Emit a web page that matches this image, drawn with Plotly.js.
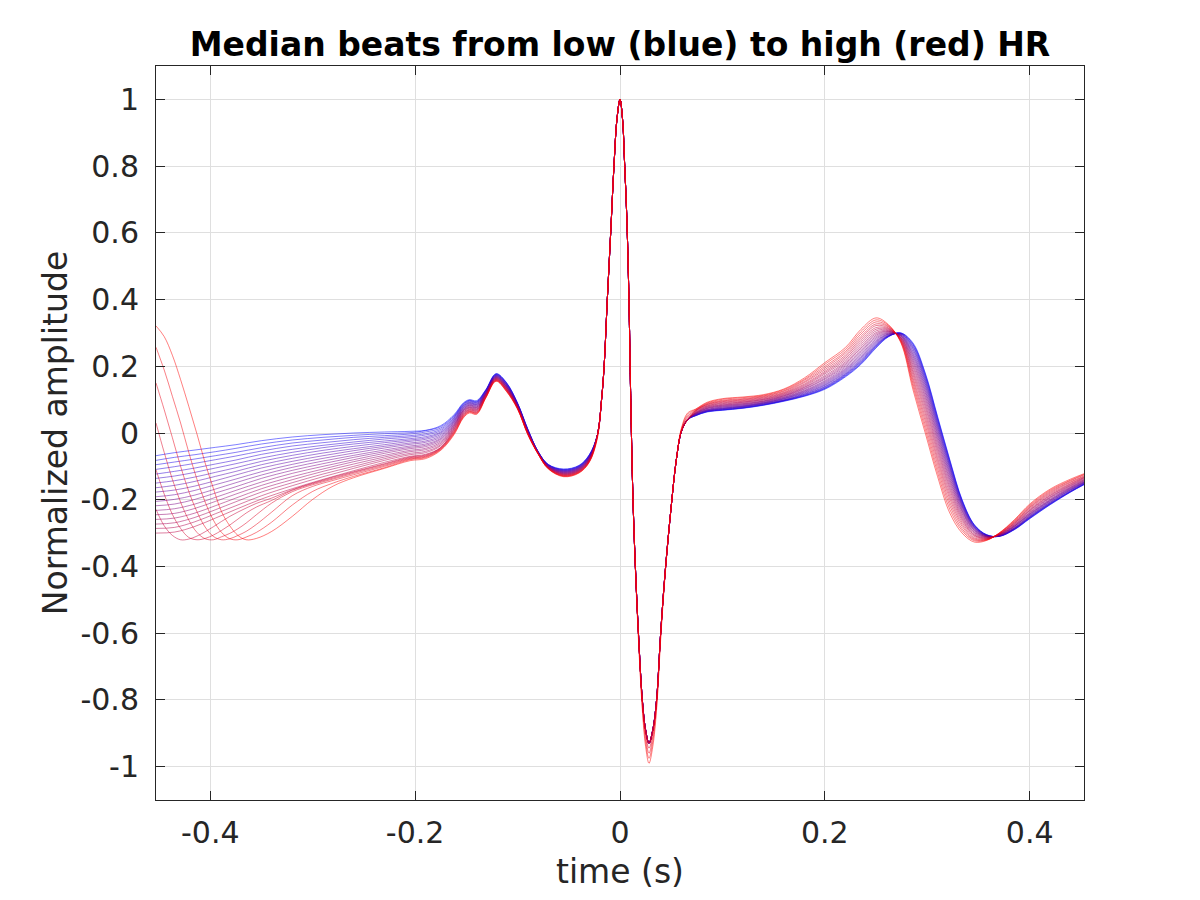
<!DOCTYPE html>
<html>
<head>
<meta charset="utf-8">
<script src="https://cdn.plot.ly/plotly-3.0.1.min.js"></script>
<style>
  html, body { margin: 0; padding: 0; background: #ffffff; }
  #plot { width: 1200px; height: 900px; }
</style>
</head>
<body>
<div id="plot"></div>
<script>
// Median beats binned by heart rate, k = 0 (lowest HR, blue) .. 23 (highest HR, red).
// Each beat is stored in four pieces: the tail of the previous beat, the P wave,
// the QRS complex and the ST-T segment.

// ---- time grids (s) ----
const tFan   = [-0.453, -0.435, -0.415, -0.395, -0.375, -0.35, -0.32, -0.29, -0.26, -0.23, -0.205];
const tTwave = [-0.453, -0.445, -0.437, -0.429, -0.421, -0.413, -0.405, -0.397, -0.389, -0.381,
                -0.373, -0.365, -0.355, -0.34, -0.32, -0.30, -0.28, -0.26, -0.23, -0.205];
const tP     = [-0.19, -0.175, -0.162, -0.153, -0.147, -0.14, -0.131, -0.121, -0.111, -0.10,
                -0.09, -0.08, -0.07, -0.055, -0.04, -0.03];
const tQRS   = [-0.022, -0.018, -0.0155, -0.0124, -0.0091, -0.0059, -0.003, 0, 0.0025, 0.0046,
                0.0066, 0.0086, 0.0105, 0.0125, 0.015, 0.018, 0.0218, 0.025, 0.0283, 0.032,
                0.0357, 0.0397, 0.044, 0.050, 0.055, 0.060, 0.066];
const tST    = [0.074, 0.085, 0.10, 0.12, 0.14, 0.16, 0.18, 0.20, 0.22, 0.235, 0.25, 0.262, 0.274,
                0.286, 0.298, 0.31, 0.322, 0.334, 0.346, 0.358, 0.37, 0.385, 0.40, 0.42, 0.44, 0.453];

// ---- previous-beat tail, beats 0..17 (recovery after the T wave, on tFan) ----
const tailFan = [
  [-0.068, -0.059, -0.051, -0.043, -0.035, -0.023, -0.012, -0.005,  0.000,  0.003,  0.005],
  [-0.082, -0.073, -0.065, -0.056, -0.046, -0.033, -0.021, -0.013, -0.007, -0.002,  0.001],
  [-0.095, -0.087, -0.078, -0.068, -0.058, -0.044, -0.030, -0.021, -0.013, -0.008, -0.003],
  [-0.109, -0.101, -0.091, -0.080, -0.069, -0.054, -0.039, -0.029, -0.020, -0.013, -0.008],
  [-0.123, -0.115, -0.105, -0.093, -0.081, -0.064, -0.049, -0.037, -0.027, -0.018, -0.012],
  [-0.136, -0.129, -0.118, -0.105, -0.092, -0.075, -0.058, -0.044, -0.033, -0.024, -0.017],
  [-0.150, -0.143, -0.132, -0.118, -0.104, -0.085, -0.067, -0.052, -0.040, -0.029, -0.021],
  [-0.164, -0.157, -0.145, -0.130, -0.115, -0.095, -0.076, -0.060, -0.047, -0.035, -0.025],
  [-0.177, -0.171, -0.159, -0.143, -0.126, -0.105, -0.085, -0.068, -0.053, -0.040, -0.030],
  [-0.191, -0.185, -0.172, -0.155, -0.138, -0.116, -0.094, -0.076, -0.060, -0.045, -0.034],
  [-0.205, -0.199, -0.186, -0.168, -0.149, -0.126, -0.103, -0.084, -0.067, -0.051, -0.039],
  [-0.218, -0.213, -0.199, -0.180, -0.161, -0.136, -0.112, -0.092, -0.073, -0.056, -0.043],
  [-0.232, -0.227, -0.213, -0.193, -0.172, -0.147, -0.121, -0.100, -0.080, -0.061, -0.047],
  [-0.245, -0.241, -0.226, -0.205, -0.183, -0.157, -0.131, -0.108, -0.086, -0.067, -0.052],
  [-0.259, -0.255, -0.240, -0.218, -0.195, -0.167, -0.140, -0.115, -0.093, -0.072, -0.056],
  [-0.273, -0.269, -0.253, -0.230, -0.206, -0.177, -0.149, -0.123, -0.100, -0.077, -0.061],
  [-0.286, -0.283, -0.266, -0.242, -0.218, -0.188, -0.158, -0.131, -0.106, -0.082, -0.065],
  [-0.300, -0.297, -0.280, -0.255, -0.229, -0.198, -0.167, -0.139, -0.113, -0.088, -0.070]
];

// ---- previous-beat tail, beats 18..23 (end of T wave still visible, on tTwave) ----
const tailTwave = [
  [-0.229, -0.278, -0.307, -0.320, -0.318, -0.309, -0.296, -0.281, -0.265, -0.250,
   -0.237, -0.225, -0.211, -0.195, -0.170, -0.150, -0.132, -0.116, -0.092, -0.072],
  [-0.110, -0.183, -0.244, -0.286, -0.313, -0.320, -0.316, -0.306, -0.292, -0.276,
   -0.258, -0.240, -0.222, -0.202, -0.172, -0.152, -0.135, -0.118, -0.094, -0.074],
  [ 0.030, -0.058, -0.139, -0.207, -0.261, -0.298, -0.317, -0.320, -0.311, -0.301,
   -0.287, -0.270, -0.245, -0.210, -0.176, -0.155, -0.138, -0.121, -0.097, -0.076],
  [ 0.150,  0.070, -0.014, -0.100, -0.175, -0.236, -0.282, -0.310, -0.320, -0.317,
   -0.307, -0.295, -0.274, -0.237, -0.188, -0.160, -0.142, -0.125, -0.100, -0.078],
  [ 0.257,  0.189,  0.110,  0.030, -0.058, -0.139, -0.207, -0.261, -0.298, -0.317,
   -0.320, -0.312, -0.298, -0.267, -0.216, -0.175, -0.150, -0.130, -0.104, -0.080],
  [ 0.321,  0.289,  0.233,  0.160,  0.080, -0.003, -0.090, -0.166, -0.236, -0.278,
   -0.307, -0.320, -0.316, -0.295, -0.250, -0.199, -0.159, -0.134, -0.106, -0.083]
];

// ---- P wave and PR segment, one row per beat (on tP) ----
const pWave = [
  [ 0.008,  0.022,  0.055, 0.090, 0.100, 0.097, 0.130, 0.178, 0.152, 0.090,  0.012, -0.055, -0.094, -0.108, -0.097, -0.065],
  [ 0.007,  0.019,  0.052, 0.088, 0.098, 0.095, 0.129, 0.177, 0.151, 0.089,  0.011, -0.055, -0.095, -0.109, -0.098, -0.066],
  [ 0.003,  0.015,  0.050, 0.086, 0.097, 0.093, 0.128, 0.176, 0.150, 0.088,  0.011, -0.056, -0.095, -0.110, -0.099, -0.067],
  [-0.002,  0.011,  0.047, 0.084, 0.095, 0.092, 0.127, 0.175, 0.149, 0.088,  0.010, -0.056, -0.096, -0.111, -0.100, -0.068],
  [-0.006,  0.007,  0.045, 0.082, 0.093, 0.090, 0.126, 0.174, 0.147, 0.087,  0.009, -0.056, -0.096, -0.112, -0.101, -0.069],
  [-0.011,  0.003,  0.042, 0.080, 0.091, 0.088, 0.125, 0.173, 0.146, 0.086,  0.008, -0.057, -0.097, -0.113, -0.102, -0.070],
  [-0.015,  0.000,  0.039, 0.078, 0.090, 0.086, 0.124, 0.172, 0.145, 0.085,  0.008, -0.057, -0.098, -0.114, -0.103, -0.071],
  [-0.019, -0.004,  0.037, 0.076, 0.088, 0.085, 0.122, 0.171, 0.144, 0.084,  0.007, -0.057, -0.098, -0.115, -0.104, -0.072],
  [-0.024, -0.008,  0.034, 0.074, 0.086, 0.083, 0.121, 0.170, 0.143, 0.083,  0.006, -0.058, -0.099, -0.116, -0.105, -0.073],
  [-0.028, -0.012,  0.032, 0.072, 0.084, 0.081, 0.120, 0.169, 0.141, 0.083,  0.005, -0.058, -0.100, -0.117, -0.106, -0.074],
  [-0.033, -0.016,  0.029, 0.070, 0.083, 0.079, 0.119, 0.168, 0.140, 0.082,  0.005, -0.058, -0.100, -0.118, -0.107, -0.075],
  [-0.037, -0.019,  0.026, 0.068, 0.081, 0.077, 0.118, 0.167, 0.139, 0.081,  0.004, -0.059, -0.101, -0.119, -0.108, -0.076],
  [-0.041, -0.023,  0.024, 0.067, 0.079, 0.076, 0.117, 0.166, 0.138, 0.080,  0.003, -0.059, -0.101, -0.120, -0.109, -0.077],
  [-0.046, -0.027,  0.021, 0.065, 0.077, 0.074, 0.116, 0.165, 0.137, 0.079,  0.002, -0.060, -0.102, -0.121, -0.110, -0.078],
  [-0.050, -0.031,  0.019, 0.063, 0.076, 0.072, 0.115, 0.164, 0.136, 0.078,  0.002, -0.060, -0.103, -0.122, -0.111, -0.079],
  [-0.055, -0.035,  0.016, 0.061, 0.074, 0.070, 0.114, 0.163, 0.134, 0.078,  0.001, -0.060, -0.103, -0.123, -0.112, -0.080],
  [-0.059, -0.038,  0.013, 0.059, 0.072, 0.069, 0.113, 0.162, 0.133, 0.077,  0.000, -0.061, -0.104, -0.124, -0.113, -0.081],
  [-0.064, -0.043,  0.011, 0.057, 0.070, 0.067, 0.112, 0.161, 0.132, 0.076, -0.001, -0.061, -0.104, -0.125, -0.114, -0.082],
  [-0.066, -0.044,  0.008, 0.055, 0.069, 0.065, 0.110, 0.160, 0.131, 0.075, -0.001, -0.061, -0.105, -0.126, -0.115, -0.083],
  [-0.068, -0.045,  0.005, 0.053, 0.067, 0.063, 0.109, 0.159, 0.130, 0.074, -0.002, -0.062, -0.106, -0.127, -0.116, -0.084],
  [-0.070, -0.047,  0.003, 0.051, 0.065, 0.061, 0.108, 0.158, 0.129, 0.074, -0.003, -0.062, -0.106, -0.128, -0.117, -0.085],
  [-0.072, -0.048,  0.000, 0.049, 0.064, 0.060, 0.107, 0.157, 0.127, 0.073, -0.004, -0.062, -0.107, -0.129, -0.118, -0.086],
  [-0.074, -0.050, -0.002, 0.047, 0.062, 0.058, 0.106, 0.156, 0.126, 0.072, -0.004, -0.063, -0.107, -0.130, -0.119, -0.087],
  [-0.077, -0.052, -0.005, 0.045, 0.060, 0.056, 0.105, 0.155, 0.125, 0.071, -0.005, -0.063, -0.108, -0.131, -0.120, -0.088]
];

// ---- QRS complex (on tQRS); only the S-wave depth differs for the fastest beats ----
const qrsNormal = [-0.005, 0.10, 0.20, 0.40, 0.60, 0.80, 0.94, 1.00, 0.94, 0.80, 0.65, 0.42, 0.10, -0.18,
                   -0.40, -0.60, -0.80, -0.89, -0.93, -0.89, -0.80, -0.60, -0.42, -0.22, -0.08, 0.005, 0.04];
const qrsDeep1  = [-0.008, 0.10, 0.20, 0.40, 0.60, 0.80, 0.94, 1.00, 0.94, 0.80, 0.65, 0.42, 0.10, -0.18,
                   -0.40, -0.60, -0.80, -0.90, -0.945, -0.90, -0.80, -0.60, -0.42, -0.22, -0.08, 0.008, 0.045];
const qrsDeep2  = [-0.010, 0.10, 0.20, 0.40, 0.60, 0.80, 0.94, 1.00, 0.94, 0.80, 0.65, 0.42, 0.10, -0.18,
                   -0.40, -0.60, -0.81, -0.91, -0.96, -0.91, -0.81, -0.60, -0.42, -0.22, -0.08, 0.010, 0.050];
const qrsDeep3  = [-0.012, 0.10, 0.20, 0.40, 0.60, 0.80, 0.94, 1.00, 0.94, 0.80, 0.65, 0.42, 0.10, -0.18,
                   -0.40, -0.61, -0.82, -0.925, -0.975, -0.925, -0.82, -0.61, -0.42, -0.22, -0.08, 0.012, 0.055];
const qrsDeep4  = [-0.015, 0.10, 0.20, 0.40, 0.60, 0.80, 0.94, 1.00, 0.94, 0.80, 0.65, 0.42, 0.10, -0.18,
                   -0.41, -0.62, -0.83, -0.94, -0.99, -0.94, -0.83, -0.62, -0.43, -0.22, -0.08, 0.015, 0.060];
const qrsShapes = [qrsNormal, qrsDeep1, qrsDeep2, qrsDeep3, qrsDeep4];
const qrsPick   = [0, 0, 0, 0, 0, 0, 0, 0, 0, 0, 0, 0, 0, 0, 0, 0, 0, 0, 0, 0, 1, 2, 3, 4];

// ---- ST segment and T wave, one row per beat (on tST) ----
const stWave = [
  [0.052, 0.063, 0.068, 0.074, 0.083, 0.095, 0.110, 0.131, 0.168, 0.205, 0.255, 0.288, 0.300, 0.270, 0.180,  0.050, -0.080, -0.200, -0.275, -0.305, -0.310, -0.290, -0.257, -0.215, -0.177, -0.155],
  [0.052, 0.064, 0.069, 0.075, 0.084, 0.096, 0.111, 0.133, 0.170, 0.207, 0.257, 0.289, 0.300, 0.267, 0.177,  0.047, -0.083, -0.202, -0.276, -0.305, -0.310, -0.289, -0.256, -0.214, -0.176, -0.154],
  [0.053, 0.064, 0.069, 0.075, 0.084, 0.097, 0.112, 0.134, 0.172, 0.209, 0.259, 0.290, 0.299, 0.265, 0.173,  0.043, -0.086, -0.204, -0.277, -0.306, -0.310, -0.289, -0.255, -0.213, -0.176, -0.154],
  [0.053, 0.065, 0.070, 0.076, 0.085, 0.097, 0.113, 0.136, 0.174, 0.212, 0.261, 0.290, 0.298, 0.261, 0.169,  0.039, -0.090, -0.206, -0.278, -0.306, -0.309, -0.288, -0.254, -0.212, -0.175, -0.153],
  [0.054, 0.066, 0.071, 0.077, 0.086, 0.098, 0.115, 0.138, 0.176, 0.214, 0.263, 0.291, 0.298, 0.258, 0.164,  0.034, -0.094, -0.209, -0.280, -0.307, -0.309, -0.287, -0.253, -0.211, -0.174, -0.152],
  [0.054, 0.066, 0.072, 0.078, 0.087, 0.099, 0.116, 0.140, 0.178, 0.217, 0.265, 0.292, 0.297, 0.254, 0.159,  0.029, -0.099, -0.212, -0.281, -0.307, -0.309, -0.287, -0.252, -0.210, -0.173, -0.151],
  [0.055, 0.067, 0.073, 0.079, 0.088, 0.100, 0.118, 0.143, 0.181, 0.220, 0.268, 0.293, 0.296, 0.250, 0.154,  0.024, -0.103, -0.215, -0.283, -0.308, -0.309, -0.286, -0.251, -0.208, -0.171, -0.150],
  [0.056, 0.068, 0.074, 0.080, 0.089, 0.102, 0.120, 0.145, 0.184, 0.224, 0.271, 0.295, 0.295, 0.245, 0.148,  0.018, -0.108, -0.218, -0.284, -0.308, -0.308, -0.285, -0.249, -0.207, -0.170, -0.149],
  [0.056, 0.069, 0.075, 0.081, 0.090, 0.103, 0.122, 0.148, 0.187, 0.227, 0.274, 0.296, 0.294, 0.240, 0.142,  0.012, -0.114, -0.221, -0.286, -0.309, -0.308, -0.284, -0.248, -0.205, -0.169, -0.148],
  [0.057, 0.070, 0.077, 0.082, 0.091, 0.104, 0.124, 0.151, 0.190, 0.231, 0.277, 0.297, 0.293, 0.235, 0.135,  0.005, -0.120, -0.225, -0.288, -0.309, -0.308, -0.283, -0.246, -0.203, -0.167, -0.147],
  [0.058, 0.071, 0.078, 0.084, 0.092, 0.106, 0.126, 0.154, 0.193, 0.235, 0.281, 0.299, 0.292, 0.230, 0.128, -0.002, -0.126, -0.229, -0.290, -0.310, -0.307, -0.281, -0.244, -0.202, -0.166, -0.146],
  [0.059, 0.073, 0.080, 0.085, 0.094, 0.107, 0.128, 0.157, 0.197, 0.240, 0.285, 0.300, 0.291, 0.224, 0.121, -0.009, -0.133, -0.233, -0.292, -0.311, -0.307, -0.280, -0.243, -0.200, -0.164, -0.144],
  [0.059, 0.074, 0.081, 0.087, 0.095, 0.109, 0.131, 0.161, 0.201, 0.244, 0.289, 0.302, 0.290, 0.218, 0.113, -0.017, -0.140, -0.237, -0.294, -0.311, -0.306, -0.279, -0.241, -0.198, -0.163, -0.143],
  [0.060, 0.075, 0.083, 0.088, 0.096, 0.111, 0.133, 0.164, 0.205, 0.249, 0.293, 0.304, 0.288, 0.212, 0.105, -0.025, -0.147, -0.242, -0.297, -0.312, -0.306, -0.278, -0.239, -0.195, -0.161, -0.141],
  [0.061, 0.077, 0.084, 0.090, 0.098, 0.112, 0.136, 0.168, 0.209, 0.254, 0.297, 0.305, 0.287, 0.205, 0.096, -0.034, -0.155, -0.247, -0.299, -0.313, -0.305, -0.276, -0.237, -0.193, -0.159, -0.140],
  [0.062, 0.078, 0.086, 0.092, 0.100, 0.114, 0.138, 0.172, 0.213, 0.259, 0.301, 0.307, 0.286, 0.198, 0.087, -0.043, -0.163, -0.252, -0.302, -0.314, -0.305, -0.275, -0.234, -0.191, -0.157, -0.138],
  [0.063, 0.080, 0.088, 0.093, 0.101, 0.116, 0.141, 0.177, 0.218, 0.265, 0.306, 0.309, 0.284, 0.190, 0.078, -0.052, -0.171, -0.257, -0.305, -0.315, -0.304, -0.273, -0.232, -0.188, -0.155, -0.136],
  [0.065, 0.081, 0.090, 0.095, 0.103, 0.118, 0.144, 0.181, 0.223, 0.271, 0.311, 0.311, 0.283, 0.183, 0.068, -0.062, -0.180, -0.262, -0.307, -0.316, -0.304, -0.271, -0.230, -0.186, -0.153, -0.134],
  [0.066, 0.083, 0.092, 0.097, 0.105, 0.120, 0.147, 0.185, 0.228, 0.277, 0.316, 0.313, 0.281, 0.175, 0.058, -0.073, -0.189, -0.268, -0.310, -0.317, -0.303, -0.270, -0.227, -0.183, -0.151, -0.133],
  [0.067, 0.085, 0.094, 0.099, 0.107, 0.122, 0.151, 0.190, 0.233, 0.283, 0.322, 0.315, 0.279, 0.166, 0.047, -0.083, -0.198, -0.274, -0.314, -0.318, -0.303, -0.268, -0.224, -0.180, -0.148, -0.131],
  [0.068, 0.086, 0.096, 0.101, 0.109, 0.125, 0.154, 0.195, 0.239, 0.289, 0.327, 0.318, 0.278, 0.158, 0.036, -0.094, -0.208, -0.280, -0.317, -0.319, -0.302, -0.266, -0.222, -0.177, -0.146, -0.129],
  [0.069, 0.088, 0.098, 0.103, 0.111, 0.127, 0.158, 0.200, 0.244, 0.296, 0.333, 0.320, 0.276, 0.149, 0.024, -0.106, -0.218, -0.287, -0.320, -0.320, -0.301, -0.264, -0.219, -0.174, -0.143, -0.126],
  [0.071, 0.090, 0.101, 0.106, 0.113, 0.130, 0.161, 0.206, 0.250, 0.303, 0.339, 0.323, 0.274, 0.140, 0.012, -0.118, -0.229, -0.293, -0.323, -0.321, -0.301, -0.262, -0.216, -0.171, -0.141, -0.124],
  [0.072, 0.092, 0.103, 0.108, 0.115, 0.132, 0.165, 0.211, 0.256, 0.310, 0.345, 0.325, 0.272, 0.130, 0.000, -0.130, -0.240, -0.300, -0.327, -0.322, -0.300, -0.260, -0.213, -0.168, -0.138, -0.122]
];

// ---- axis ticks ----
const xTickVals = [-0.4, -0.2, 0, 0.2, 0.4];
const xTickText = ['-0.4', '-0.2', '0', '0.2', '0.4'];
const yTickVals = [-1, -0.8, -0.6, -0.4, -0.2, 0, 0.2, 0.4, 0.6, 0.8, 1];
const yTickText = ['-1', '-0.8', '-0.6', '-0.4', '-0.2', '0', '0.2', '0.4', '0.6', '0.8', '1'];

const INK = '#262626';
const GRID = '#dfdfdf';
const FONT = '"DejaVu Sans", Verdana, sans-serif';
const nBeats = pWave.length;

// blue -> red with half transparency, like the MATLAB lines
function beatColor(k) {
  const f = k / (nBeats - 1);
  return `rgba(${Math.round(255 * f)},0,${Math.round(255 * (1 - f))},0.5)`;
}

const traces = [];
for (let k = 0; k < nBeats; k++) {
  const fromFan = k < tailFan.length;
  const tTail = fromFan ? tFan : tTwave;
  const tail = fromFan ? tailFan[k] : tailTwave[k - tailFan.length];
  traces.push({
    type: 'scatter', mode: 'lines',
    x: [...tTail, ...tP, ...tQRS, ...tST],
    y: [...tail, ...pWave[k], ...qrsShapes[qrsPick[k]], ...stWave[k]],
    line: { color: beatColor(k), width: 1, shape: 'spline', smoothing: 1 },
    hoverinfo: 'skip', showlegend: false
  });
}

const axisCommon = {
  ticks: 'inside', ticklen: 9, tickwidth: 1, tickcolor: INK,
  showline: true, linecolor: INK, linewidth: 1, mirror: 'ticks',
  showgrid: true, gridcolor: GRID, gridwidth: 1, zeroline: false,
  tickfont: { family: FONT, size: 30, color: INK },
  fixedrange: true
};

const layout = {
  width: 1200, height: 900,
  paper_bgcolor: '#ffffff', plot_bgcolor: '#ffffff',
  margin: { l: 156, r: 116, t: 66, b: 100, pad: 0 },
  font: { family: FONT, color: INK, size: 30 },
  title: {
    text: '<b>Median beats from low (blue) to high (red) HR</b>',
    font: { family: FONT, size: 33, color: '#000000' },
    x: 0.5, xref: 'paper', xanchor: 'center',
    y: 0.951, yref: 'container', yanchor: 'middle'
  },
  xaxis: Object.assign({}, axisCommon, {
    range: [-0.453, 0.453],
    tickmode: 'array', tickvals: xTickVals, ticktext: xTickText,
    ticklabelstandoff: 6,
    title: { text: 'time (s)', font: { family: FONT, size: 33, color: INK }, standoff: 10 }
  }),
  yaxis: Object.assign({}, axisCommon, {
    range: [-1.1, 1.1],
    tickmode: 'array', tickvals: yTickVals, ticktext: yTickText,
    ticklabelstandoff: 10,
    title: { text: 'Normalized amplitude', font: { family: FONT, size: 33, color: INK }, standoff: 2 }
  })
};

Plotly.newPlot('plot', traces, layout, { displayModeBar: false, staticPlot: true });
</script>
</body>
</html>
